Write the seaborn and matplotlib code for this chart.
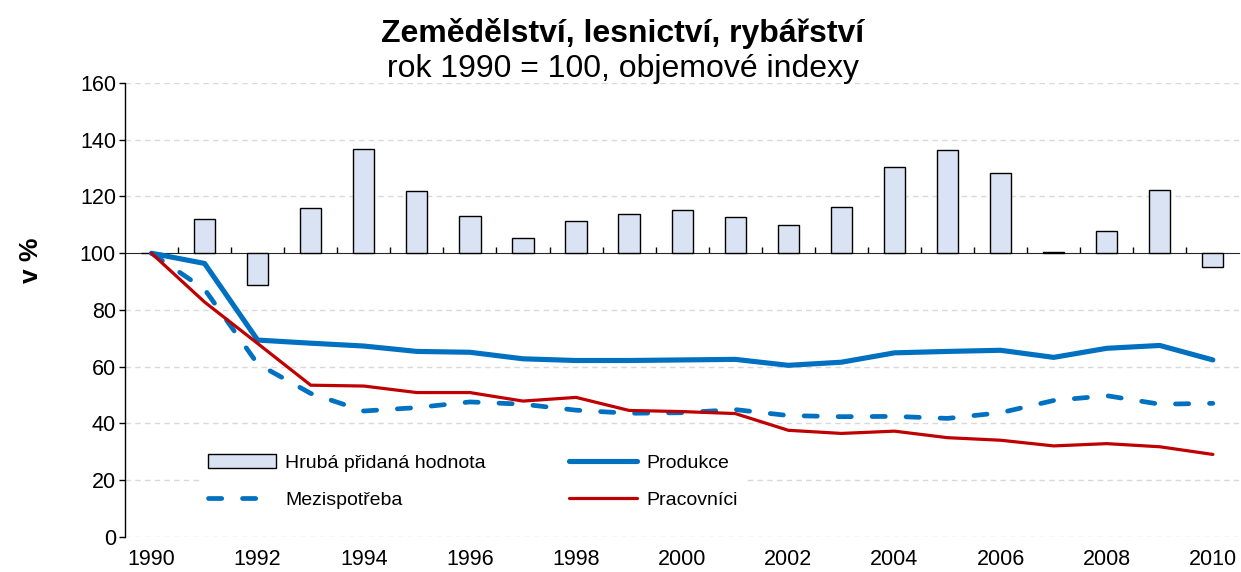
import numpy as np
import pandas as pd
import matplotlib
matplotlib.use("Agg")
import matplotlib.pyplot as plt
import seaborn as sns

# Data (1990 = 100)
years = [str(y) for y in range(1990, 2011)]
hpH = [100, 112.2, 88.7, 115.8, 136.7, 122.0, 113.2, 105.2, 111.3, 113.8, 115.3,
       112.8, 109.9, 116.4, 130.4, 136.4, 128.2, 100.4, 107.8, 122.2, 95.2]
produkce = [100, 96.4, 69.4, 68.3, 67.3, 65.4, 65.1, 62.8, 62.2, 62.2, 62.4,
            62.6, 60.5, 61.6, 64.9, 65.4, 65.8, 63.3, 66.5, 67.5, 62.4]
mezispotreba = [100, 87.3, 61.0, 50.6, 44.4, 45.6, 47.6, 46.8, 44.7, 43.6, 43.8,
                44.9, 42.8, 42.4, 42.5, 41.8, 43.8, 48.1, 49.8, 46.8, 47.1]
pracovnici = [100, 82.8, 68.2, 53.5, 53.2, 50.9, 50.9, 47.9, 49.2, 44.6, 44.2,
              43.5, 37.6, 36.5, 37.3, 35.0, 34.1, 32.1, 32.9, 31.8, 29.1]

blue = '#0070C0'
red = '#C00000'
bar_fill = '#DAE3F3'

sns.set_style("white")
plt.rcParams['font.family'] = ['Liberation Sans', 'DejaVu Sans']
plt.rcParams['text.color'] = 'black'
plt.rcParams['xtick.color'] = 'black'
plt.rcParams['ytick.color'] = 'black'

df = pd.DataFrame({
    'rok': years,
    'pos': np.arange(len(years)),
    'hph': hpH,
    'produkce': produkce,
    'mezispotreba': mezispotreba,
    'pracovnici': pracovnici,
})
df['hph_diff'] = df['hph'] - 100

fig = plt.figure(figsize=(12.41, 5.72), dpi=100)
ax = fig.add_axes([0.1007, 0.0612, 0.898, 0.7937])

# bars grow from the 100 line
sns.barplot(data=df, x='rok', y='hph_diff', order=years, bottom=100,
            width=0.4, color=bar_fill, saturation=1, edgecolor='black',
            linewidth=1, errorbar=None, label='Hrubá přidaná hodnota',
            ax=ax, zorder=2)

sns.lineplot(data=df, x='pos', y='produkce', color=blue, linewidth=3.7,
             label='Produkce', ax=ax, zorder=3)
sns.lineplot(data=df, x='pos', y='mezispotreba', color=blue, linewidth=3.4,
             linestyle=(0, (2.8, 4.4)), dash_capstyle='round',
             label='Mezispotřeba', ax=ax, zorder=3)
sns.lineplot(data=df, x='pos', y='pracovnici', color=red, linewidth=2.3,
             label='Pracovníci', ax=ax, zorder=4)

ax.set_xlim(-0.5, len(years) - 0.5)
ax.set_ylim(0, 160)
ax.set_yticks(np.arange(0, 161, 20))
ax.set_xticks(df['pos'][::2])
ax.set_xticklabels(years[::2])
ax.set_xlabel('')
ax.set_ylabel('')

# gridlines
for yv in np.arange(0, 161, 20):
    if yv != 100:
        ax.axhline(yv, color='#D9D9D9', lw=1, linestyle=(0, (4, 3)), zorder=0)

for s in ['top', 'right', 'bottom']:
    ax.spines[s].set_visible(False)
ax.spines['left'].set_color('black')
ax.spines['left'].set_linewidth(1)

ax.tick_params(axis='y', direction='out', length=4.5, width=1, color='black',
               labelsize=15.5, pad=2, left=True, labelcolor='black')
ax.tick_params(axis='x', length=0, labelsize=15.5, pad=9, labelcolor='black')

# category axis crossing at 100
sec = ax.secondary_xaxis(100 / 160)
sec.spines['bottom'].set_color('black')
sec.spines['bottom'].set_linewidth(1.2)
sec.set_xticks(np.arange(0.5, len(years) - 1, 1.0))
sec.set_xticklabels([])
sec.tick_params(axis='x', direction='out', length=4.5, width=1, color='black')

# legend
handles, labels = ax.get_legend_handles_labels()
hmap = dict(zip(labels, handles))
order = ['Hrubá přidaná hodnota', 'Mezispotřeba', 'Produkce', 'Pracovníci']
leg = ax.legend([hmap[k] for k in order], order, ncol=2, loc='upper left',
                bbox_to_anchor=(0.059, 0.221), fontsize=14, frameon=True,
                facecolor='white', edgecolor='none', framealpha=1,
                handlelength=3.5, handletextpad=0.45, columnspacing=4.3,
                labelspacing=1.02, borderpad=0.4)
leg.set_zorder(5)
for t in leg.get_texts():
    t.set_color('black')

fig.text(0.502, 0.942, 'Zemědělství, lesnictví, rybářství', ha='center',
         va='center', fontsize=23, fontweight='bold', color='black')
fig.text(0.502, 0.879, 'rok 1990 = 100, objemové indexy', ha='center',
         va='center', fontsize=23, color='black')
fig.text(0.025, 0.545, 'v %', rotation=90, ha='center', va='center',
         fontsize=19, fontweight='bold', color='black')

fig.savefig('out.png', dpi=100)
plt.close(fig)
